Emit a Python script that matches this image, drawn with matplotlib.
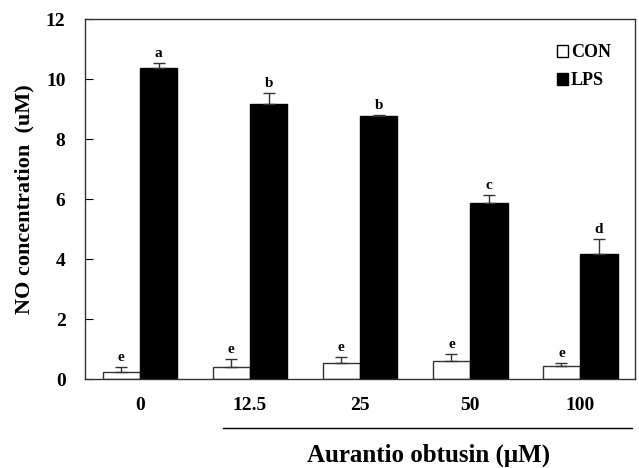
import matplotlib.pyplot as plt
import numpy as np
from matplotlib.patches import Patch

plt.rcParams['font.family'] = 'Liberation Serif'
plt.rcParams['font.weight'] = 'bold'

doses = ['0', '12.5', '25', '50', '100']
con = [0.22, 0.41, 0.52, 0.60, 0.44]
con_err = [0.19, 0.26, 0.22, 0.24, 0.08]
lps = [10.36, 9.17, 8.77, 5.86, 4.17]
lps_err = [0.17, 0.36, 0.03, 0.27, 0.50]
con_letters = ['e', 'e', 'e', 'e', 'e']
lps_letters = ['a', 'b', 'b', 'c', 'd']

fig = plt.figure(figsize=(6.39, 4.68), dpi=100)
ax = fig.add_axes([0.133, 0.190, 0.861, 0.769])

x = np.arange(len(doses))
w = 0.34
ekw = dict(elinewidth=1, capthick=1, ecolor='#333333')
ax.bar(x - w / 2, con, w, color='white', edgecolor='#333333', linewidth=1,
       yerr=[np.zeros(len(con)), con_err], capsize=4, error_kw=ekw, zorder=2)
ax.bar(x + w / 2, lps, w, color='black', edgecolor='black', linewidth=1,
       yerr=[np.zeros(len(lps)), lps_err], capsize=4, error_kw=ekw, zorder=2)

for i in range(len(doses)):
    ax.text(x[i] - w / 2, con[i] + con_err[i] + 0.1, con_letters[i],
            ha='center', va='bottom', fontsize=11, fontweight='bold')
    ax.text(x[i] + w / 2, lps[i] + lps_err[i] + 0.1, lps_letters[i],
            ha='center', va='bottom', fontsize=11, fontweight='bold')

ax.set_xlim(-0.5, 4.5)
ax.set_ylim(0, 12)
ax.set_yticks([0, 2, 4, 6, 8, 10, 12])
ax.set_xticks(x)
ax.set_xticklabels(doses)
ax.tick_params(axis='y', direction='in', length=6, labelsize=14, pad=14)
ax.tick_params(axis='x', length=0, labelsize=14, pad=13)
for s in ax.spines.values():
    s.set_color('#333333')
    s.set_linewidth(1)

ax.set_ylabel('NO concentration  (uM)', fontsize=16, fontweight='bold', labelpad=8)

# underline for treatment doses
ax.plot([0.75, 4.47], [-0.136, -0.136], color='black', linewidth=1,
        transform=ax.get_xaxis_transform(), clip_on=False)
ax.text(2.62, -0.213, 'Aurantio obtusin (\u03bcM)', transform=ax.get_xaxis_transform(),
        ha='center', va='center', fontsize=18, fontweight='bold')

handles = [Patch(facecolor='white', edgecolor='black', label='CON'),
           Patch(facecolor='black', edgecolor='black', label='LPS')]
ax.legend(handles=handles, loc='upper right', frameon=False, fontsize=13,
          handlelength=0.6, handleheight=0.6, handletextpad=0.15,
          labelspacing=0.6, bbox_to_anchor=(0.985, 0.975))

fig.savefig('out.png', dpi=100)
